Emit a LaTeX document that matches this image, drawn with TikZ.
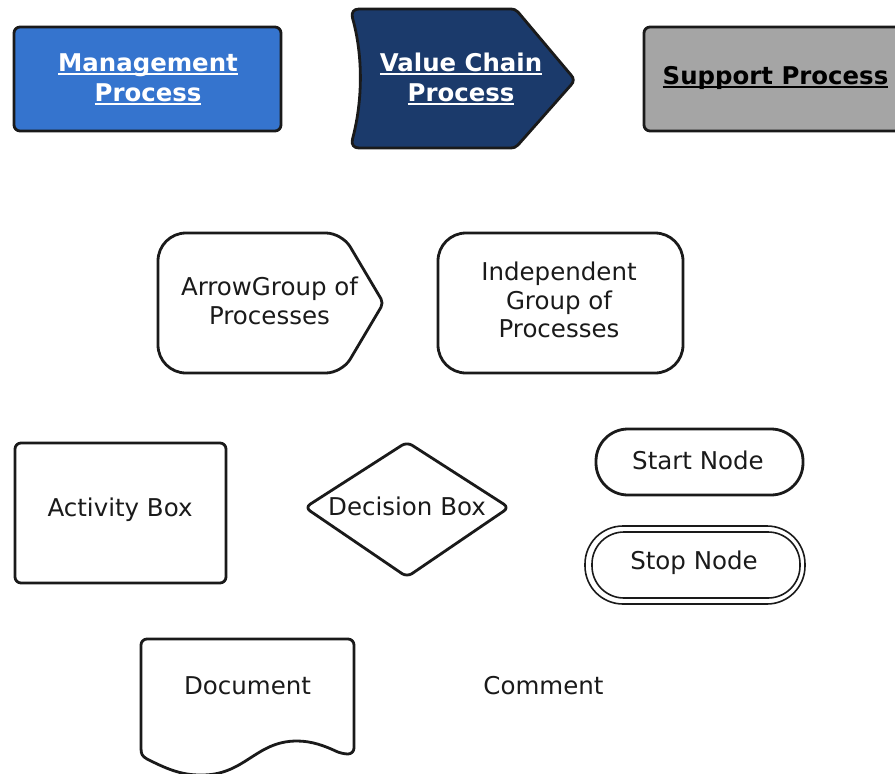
\documentclass[tikz,border=0pt]{standalone}
\usepackage{fontspec}
\setmainfont{DejaVu Sans}
\definecolor{mgmt}{HTML}{3574CE}
\definecolor{chain}{HTML}{1B3A6B}
\definecolor{supp}{HTML}{A5A5A5}
\definecolor{ink}{HTML}{1A1A1A}
\newsavebox{\ulsave}
\newcommand{\ulbox}[1]{\sbox{\ulsave}{#1}\rlap{\rule[-3.4pt]{\wd\ulsave}{2pt}}\usebox{\ulsave}}
\tikzset{
  outline/.style={draw=ink,line width=2.8pt,line join=round},
  label/.style={inner sep=0pt,align=center,font=\fontsize{24.5}{28.5}\selectfont,text=ink},
  title/.style={inner sep=0pt,align=center,font=\fontsize{24.4}{30}\selectfont\bfseries},
}
\begin{document}
\begin{tikzpicture}[x=1pt,y=-1pt]
\useasboundingbox (0,0) rectangle (895,774);
\clip (0,0) rectangle (895,774);
% top row
\draw[outline,fill=mgmt,rounded corners=6pt] (14,27) rectangle (281,131);
\node[title,text=white] (mgmtlabel) at (148,79) {\ulbox{Management}\\\ulbox{Process}};
\draw[outline,fill=chain] (359,9) -- (510,9) .. controls (514,9) and (516,10) .. (518,12)
  -- (571,75) .. controls (574,78) and (574,82) .. (571,85)
  -- (518,145) .. controls (516,147) and (514,148) .. (510,148) -- (359,148)
  .. controls (354,148) and (351,145) .. (352.5,139)
  .. controls (363,100) and (363,55) .. (352.5,18)
  .. controls (351,12) and (354,9) .. (359,9) -- cycle;
\node[title,text=white] (chainlabel) at (461,79) {\ulbox{Value Chain}\\\ulbox{Process}};
\draw[outline,fill=supp,rounded corners=6pt] (644,27) rectangle (905,131);
\node[title,text=black] (supplabel) at (775.5,78) {\ulbox{Support Process}};
% groups
\draw[outline] (158,303) [rounded corners=28pt] -- (158,233) [rounded corners=16pt] -- (342,233)
  [rounded corners=5pt] -- (383.5,303) [rounded corners=16pt] -- (342,373) [rounded corners=28pt] -- (158,373) -- cycle;
\node[label] (arrowgroup) at (269.5,301) {ArrowGroup of\\Processes};
\draw[outline,rounded corners=28pt] (438,233) rectangle (683,373);
\node[label] (indep) at (559,300) {Independent\\Group of\\Processes};
% boxes
\draw[outline,rounded corners=6pt] (15,443) rectangle (226,583);
\node[label] (activity) at (120,510) {Activity Box};
\draw[outline,rounded corners=6pt] (305,507.5) -- (407,442) -- (509,507.5) -- (407,577) -- cycle;
\node[label] (decision) at (407,506) {Decision Box};
\draw[outline,rounded corners=32pt] (596,429) rectangle (803,495);
\node[label] (startn) at (698,460) {Start Node};
\draw[draw=ink,line width=1.6pt,rounded corners=38pt] (585,526) rectangle (805,604);
\draw[draw=ink,line width=1.6pt,rounded corners=32pt] (592,532) rectangle (800,598);
\node[label] (stopn) at (694,563) {Stop Node};
% document
\draw[outline] (141,700) [rounded corners=6pt] -- (141,639) -- (354,639) -- (354,754) -- (342,754)
  [sharp corners] .. controls (325,746) and (312,741) .. (297,741)
  .. controls (255,741) and (245,776) .. (200,775)
  .. controls (180,775) and (165,768) .. (147,759)
  .. controls (142,756) and (141,754) .. (141,748) -- cycle;
\node[label] (document) at (247.5,685.5) {Document};
\node[label] (comment) at (543.5,685.5) {Comment};
\end{tikzpicture}
\end{document}
